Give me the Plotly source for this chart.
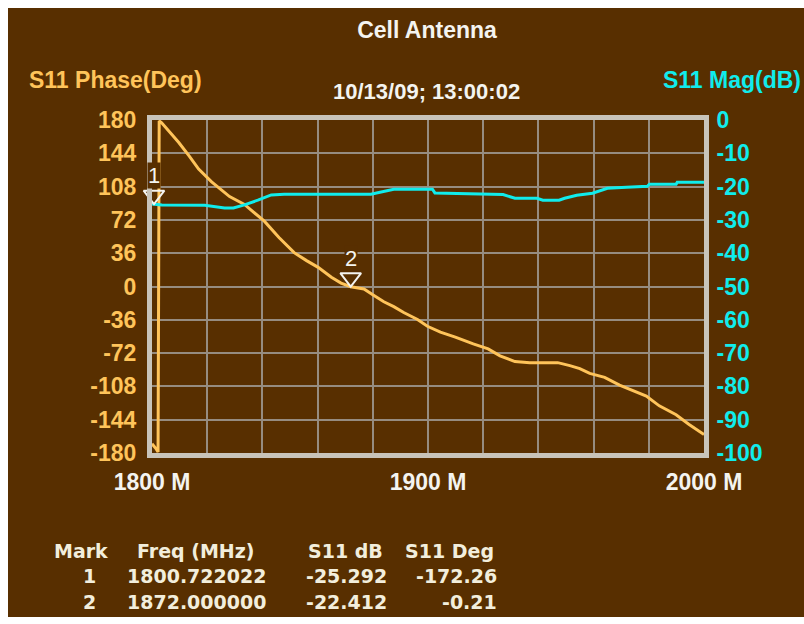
import plotly.graph_objects as go

# ---- S11 phase trace (degrees, wrapped to +/-180) ----
phase_freq_mhz = [1800.0, 1800.722022, 1801.5, 1802.2, 1802.6, 1803.5, 1806.5, 1809.7,
                  1813.5, 1816.9, 1821.6, 1828.1, 1833.5, 1840.7, 1846.0, 1851.5, 1856.0,
                  1860.2, 1865.0, 1868.5, 1872.0, 1876.8, 1880.0, 1884.0, 1887.6, 1891.2,
                  1896.2, 1899.8, 1904.5, 1909.9, 1916.4, 1921.8, 1926.1, 1931.5, 1936.9,
                  1947.0, 1951.4, 1955.0, 1958.6, 1964.0, 1969.4, 1973.0, 1979.1, 1983.8,
                  1989.9, 1994.6, 2000.0]
phase_deg = [-170.0, -172.26, -175.5, -178.8, 179.0, 177.0, 167.0, 155.6,
             141.0, 126.9, 113.1, 97.2, 88.7, 70.6, 53.0, 36.6, 28.0,
             20.7, 10.0, 3.7, -0.21, -2.6, -9.0, -16.5, -21.8, -28.1,
             -35.6, -43.0, -49.4, -54.7, -62.1, -67.4, -74.9, -81.2, -82.3,
             -82.3, -85.5, -88.7, -94.0, -98.2, -106.7, -111.0, -118.4, -129.0,
             -138.6, -149.2, -160.0]

# ---- S11 magnitude trace (dB) ----
mag_freq_mhz = [1800.0, 1800.722022, 1803.6, 1819.1, 1826.3, 1829.5, 1833.5, 1838.6,
                1843.2, 1847.9, 1872.0, 1879.3, 1887.6, 1901.6, 1902.5, 1913.5, 1927.2,
                1931.5, 1939.5, 1941.6, 1947.5, 1949.5, 1953.9, 1959.6, 1965.0, 1971.9,
                1979.5, 1980.2, 1989.9, 1990.3, 2000.0]
mag_db = [-25.2, -25.292, -25.5, -25.6, -26.4, -26.4, -25.5, -24.0,
          -22.5, -22.3, -22.412, -22.3, -20.8, -20.8, -21.9, -22.2, -22.4,
          -23.5, -23.5, -24.1, -24.1, -23.5, -22.6, -22.0, -20.5, -20.2,
          -19.9, -19.3, -19.3, -18.7, -18.7]

# ---- marker readouts ----
marker_ids = ["1", "2"]
marker_freq_mhz = [1800.722022, 1872.000000]
marker_db = [-25.292, -22.412]
marker_deg = [-172.26, -0.21]
marker_on = ["mag", "phase"]  # trace each marker is attached to

# ---- axis ticks ----
freq_ticks = list(range(1800, 2001, 20))
freq_tick_text = [f"{f} M" if f % 100 == 0 else "" for f in freq_ticks]
phase_ticks = list(range(-180, 181, 36))
mag_ticks = list(range(-100, 1, 10))

BROWN = "#582f00"
ORANGE = "#ffc45a"
CYAN = "#10ecec"
GRID = "#968c80"
BORDER = "#c8c4ba"
WHITE = "#f4f4f0"
CREAM = "#f2eedc"

W, H = 804, 624
ML, MR, MT, MB = 152, 100, 120, 171
PW, PH = W - ML - MR, H - MT - MB


def px(x):
    return (x - ML) / PW


def py(y):
    return (H - MB - y) / PH


fig = go.Figure()

fig.add_trace(go.Scatter(
    x=phase_freq_mhz, y=phase_deg, mode="lines", yaxis="y",
    line=dict(color=ORANGE, width=3), hoverinfo="skip", showlegend=False))

fig.add_trace(go.Scatter(
    x=mag_freq_mhz, y=mag_db, mode="lines", yaxis="y2",
    line=dict(color=CYAN, width=3), hoverinfo="skip", showlegend=False))

annotations = []
for mid, f, db, deg, on in zip(marker_ids, marker_freq_mhz, marker_db, marker_deg, marker_on):
    yv = db if on == "mag" else deg
    ax = "y2" if on == "mag" else "y"
    # downward-pointing open triangle whose tip rests on the trace
    fig.add_trace(go.Scatter(
        x=[f], y=[yv], yaxis=ax, mode="markers", cliponaxis=False,
        marker=dict(symbol="triangle-up-open", angle=180, size=18, color=WHITE,
                    line=dict(width=2, color=WHITE), standoff=9),
        hoverinfo="skip", showlegend=False))
    annotations.append(dict(
        x=f, y=yv, xref="x", yref=ax, text=mid, showarrow=False,
        yanchor="bottom", yshift=15, bgcolor=BROWN, borderpad=0,
        font=dict(family="Liberation Sans", size=22, color=WHITE)))

# header texts
annotations += [
    dict(x=px(27), y=py(80), xref="paper", yref="paper", text="S11 Phase(Deg)",
         showarrow=False, xanchor="left", yanchor="middle",
         font=dict(size=23, color=ORANGE, weight="bold")),
    dict(x=px(426), y=py(92), xref="paper", yref="paper", text="10/13/09; 13:00:02",
         showarrow=False, xanchor="center", yanchor="middle",
         font=dict(size=22, color=WHITE, weight="bold")),
    dict(x=px(661), y=py(80), xref="paper", yref="paper", text="S11 Mag(dB)",
         showarrow=False, xanchor="left", yanchor="middle",
         font=dict(size=23, color=CYAN, weight="bold")),
]

# marker table
tfont = dict(family="DejaVu Sans", size=19, color=CREAM, weight="bold")
row_y = [551, 576, 602]
annotations += [
    dict(x=px(52), y=py(row_y[0]), text="Mark", xanchor="left"),
    dict(x=px(135), y=py(row_y[0]), text="Freq (MHz)", xanchor="left"),
    dict(x=px(385), y=py(row_y[0]), text="S11 dB", xanchor="right"),
    dict(x=px(496), y=py(row_y[0]), text="S11 Deg", xanchor="right"),
]
for i, (mid, f, db, deg) in enumerate(zip(marker_ids, marker_freq_mhz, marker_db, marker_deg)):
    yy = py(row_y[i + 1])
    annotations += [
        dict(x=px(98), y=yy, text=mid, xanchor="right"),
        dict(x=px(125), y=yy, text=f"{f:.6f}", xanchor="left"),
        dict(x=px(389), y=yy, text=f"{db:.3f}", xanchor="right"),
        dict(x=px(499), y=yy, text=f"{deg:.2f}", xanchor="right"),
    ]
for a in annotations[-12:]:
    a.update(xref="paper", yref="paper", showarrow=False, yanchor="middle", font=tfont)

fig.update_layout(
    width=W, height=H, autosize=False,
    margin=dict(l=ML, r=MR, t=MT, b=MB, pad=0),
    paper_bgcolor="white", plot_bgcolor=BROWN,
    font=dict(family="Liberation Sans"),
    title=dict(text="Cell Antenna", xref="container", yref="container",
               x=427 / W, y=1 - 30 / H, xanchor="center", yanchor="middle",
               font=dict(size=23, color=WHITE, weight="bold")),
    shapes=[dict(type="rect", xref="paper", yref="paper", layer="below",
                 x0=px(8), x1=px(W + 2), y0=py(617), y1=py(8),
                 fillcolor=BROWN, line=dict(width=0))],
    annotations=annotations,
    xaxis=dict(range=[1800, 2000], tickmode="array", tickvals=freq_ticks,
               ticktext=freq_tick_text, showgrid=True, gridcolor=GRID, gridwidth=2,
               showline=True, mirror=True, linecolor=BORDER, linewidth=5,
               ticks="outside", ticklen=4, tickcolor="rgba(0,0,0,0)",
               tickfont=dict(size=23, color=WHITE, weight="bold"),
               zeroline=False, fixedrange=True),
    yaxis=dict(range=[-180, 180], tickmode="array", tickvals=phase_ticks,
               ticktext=[str(v) for v in phase_ticks],
               showgrid=True, gridcolor=GRID, gridwidth=2,
               showline=True, mirror=True, linecolor=BORDER, linewidth=5,
               ticks="outside", ticklen=6, tickcolor="rgba(0,0,0,0)",
               tickfont=dict(size=23, color=ORANGE, weight="bold"),
               zeroline=False, fixedrange=True),
    yaxis2=dict(range=[-100, 0], overlaying="y", side="right", tickmode="array",
                tickvals=mag_ticks, ticktext=[str(v) for v in mag_ticks],
                showgrid=False, showline=False, ticks="outside", ticklen=7,
                tickcolor="rgba(0,0,0,0)",
                tickfont=dict(size=23, color=CYAN, weight="bold"),
                zeroline=False, fixedrange=True),
)

fig.write_html("out.html")
